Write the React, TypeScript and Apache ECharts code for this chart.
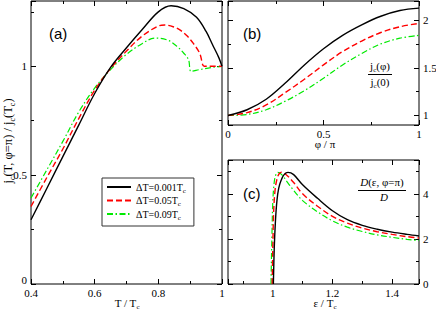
import React, { useEffect, useRef } from 'react';
import * as echarts from 'echarts';

// ---------- Panel (a): j_c(T, phi=pi) / j_c(T_c) vs T / T_c ----------
const aBlackT = [0.40, 0.45, 0.50, 0.55, 0.60, 0.65, 0.70, 0.75, 0.80, 0.84, 0.88, 0.92, 0.95, 0.97, 0.99, 1.00];
const aBlackJ = [0.295, 0.44, 0.585, 0.73, 0.875, 0.995, 1.085, 1.17, 1.25, 1.278, 1.265, 1.225, 1.16, 1.10, 1.04, 1.00];
const aRedT = [0.40, 0.45, 0.50, 0.55, 0.60, 0.65, 0.70, 0.75, 0.80, 0.82, 0.85, 0.87, 0.89, 0.91, 0.93, 0.944, 0.96, 1.00];
const aRedJ = [0.356, 0.49, 0.62, 0.76, 0.89, 0.99, 1.07, 1.14, 1.185, 1.19, 1.18, 1.165, 1.14, 1.105, 1.06, 1.0, 1.0, 1.0];
const aGreenT = [0.40, 0.45, 0.50, 0.55, 0.60, 0.65, 0.70, 0.75, 0.79, 0.83, 0.86, 0.88, 0.895, 0.903, 0.93, 0.97, 1.00];
const aGreenJ = [0.395, 0.525, 0.655, 0.79, 0.90, 0.985, 1.055, 1.105, 1.13, 1.12, 1.09, 1.06, 1.03, 0.977, 0.985, 0.995, 1.00];

// ---------- Panel (b): j_c(phi) / j_c(0) vs phi / pi ----------
const bPhi = [0, 0.1, 0.2, 0.3, 0.4, 0.5, 0.6, 0.7, 0.8, 0.9, 1.0];
const bBlack = [1.0, 1.06, 1.17, 1.34, 1.53, 1.70, 1.84, 1.95, 2.04, 2.10, 2.125];
const bRed = [1.0, 1.03, 1.11, 1.24, 1.38, 1.53, 1.67, 1.78, 1.87, 1.93, 1.965];
const bGreen = [1.0, 1.01, 1.06, 1.15, 1.26, 1.39, 1.53, 1.65, 1.75, 1.81, 1.84];

// ---------- Panel (c): D(eps, phi=pi) / D vs eps / T_c ----------
const cBlackE = [1.002, 1.005, 1.009, 1.014, 1.02, 1.028, 1.038, 1.051, 1.07, 1.1, 1.15, 1.2, 1.25, 1.3, 1.35, 1.4, 1.45, 1.49];
const cBlackD = [0, 1.6, 2.8, 3.7, 4.25, 4.6, 4.85, 4.95, 4.85, 4.4, 3.8, 3.25, 2.85, 2.6, 2.43, 2.3, 2.2, 2.13];
const cRedE = [0.998, 1.0, 1.003, 1.008, 1.015, 1.022, 1.03, 1.045, 1.07, 1.1, 1.15, 1.2, 1.25, 1.3, 1.35, 1.4, 1.45, 1.49];
const cRedD = [0, 1.5, 3.2, 4.2, 4.7, 4.9, 4.96, 4.85, 4.5, 4.0, 3.45, 3.0, 2.7, 2.48, 2.32, 2.2, 2.1, 2.04];
const cGreenE = [0.994, 0.997, 1.0, 1.004, 1.009, 1.017, 1.03, 1.05, 1.07, 1.1, 1.15, 1.2, 1.25, 1.3, 1.35, 1.4, 1.45, 1.49];
const cGreenD = [0, 2.0, 3.6, 4.4, 4.8, 4.95, 4.85, 4.5, 4.15, 3.7, 3.2, 2.8, 2.52, 2.33, 2.18, 2.07, 1.98, 1.93];

// ---------- tick labels ----------
const aXLabels = [0.4, 0.6, 0.8, 1];
const aYLabels = [0, 0.5, 1];
const bXLabels = [0, 0.5, 1];
const bYLabels = [1, 1.5, 2];
const cXLabels = [1, 1.2, 1.4];
const cYLabels = [0, 2, 4];

const seriesNames = ['ΔT=0.001Tc', 'ΔT=0.05Tc', 'ΔT=0.09Tc'];
const legendRich: Record<string, string> = {
  'ΔT=0.001Tc': '{n|ΔT=0.001T}{s|c}',
  'ΔT=0.05Tc': '{n|ΔT=0.05T}{s|c}',
  'ΔT=0.09Tc': '{n|ΔT=0.09T}{s|c}',
};

const SERIF = '"Liberation Serif", "Times New Roman", serif';
const SANS = '"Liberation Sans", Arial, sans-serif';

const richFor = (size: number, lh = size + 3, subH = 6) => ({
  n: { fontSize: size, fontFamily: SERIF, lineHeight: lh, color: '#000' },
  i: { fontSize: size, fontFamily: SERIF, fontStyle: 'italic', lineHeight: lh, color: '#000' },
  s: { fontSize: Math.round(size * 0.65), fontFamily: SERIF, verticalAlign: 'bottom', height: subH, color: '#000' },
});

const zip = (xs: number[], ys: number[]) => xs.map((x, i) => [x, ys[i]]);

// The corner label "0" (shared corner with the x labels) is lifted slightly via a rich style.
const fmt = (labels: number[], liftZero: boolean) => (v: number) => {
  if (!labels.some((l) => Math.abs(l - v) < 1e-6)) return '';
  const s = String(+Number(v).toFixed(2));
  return liftZero && Math.abs(v) < 1e-9 ? `{z|${s}}` : s;
};

function axisSet(
  dim: 'x' | 'y', grid: number, min: number, max: number,
  major: number, minor: number, labelPos: string, labels: number[],
) {
  const main = dim === 'x' ? 'bottom' : 'left';
  const opp = dim === 'x' ? 'top' : 'right';
  const lift = dim === 'y' && labelPos === 'left';
  const mk = (pos: string, iv: number, len: number, withLabels: boolean) => ({
    type: 'value', gridIndex: grid, min, max, position: pos,
    minInterval: iv, maxInterval: iv,
    axisLine: { show: false, onZero: false },
    splitLine: { show: false },
    axisTick: { show: true, inside: true, length: len, lineStyle: { color: '#000', width: 1 } },
    axisLabel: withLabels
      ? {
          show: true, margin: 4, formatter: fmt(labels, lift),
          fontFamily: SERIF, fontSize: 11, color: '#000', lineHeight: dim === 'x' ? 9 : 7,
          rich: { z: { fontFamily: SERIF, fontSize: 11, color: '#000', padding: [0, 0, 8, 0] } },
        }
      : { show: false },
  });
  return [
    mk(main, major, 5, labelPos === main),
    mk(main, minor, 3, false),
    mk(opp, major, 5, labelPos === opp),
    mk(opp, minor, 3, false),
  ];
}

const styles = [
  { color: '#000000', width: 1.4, type: 'solid' as any },
  { color: '#ff0000', width: 1.4, type: [6, 3] as any },
  { color: '#00ea00', width: 1.2, type: [6, 2.5, 1.5, 2.5] as any },
];

function line(name: string, k: number, grid: number, data: number[][]) {
  return {
    type: 'line', name, xAxisIndex: grid * 4, yAxisIndex: grid * 4, data,
    symbol: 'none', smooth: 0.35,
    lineStyle: { ...styles[k] }, itemStyle: { color: styles[k].color },
    z: 3 - k,
  };
}

export default function App() {
  const ref = useRef<HTMLDivElement>(null);
  useEffect(() => {
    if (!ref.current) return;
    const chart = echarts.init(ref.current, undefined, { renderer: 'svg' });
    const r11 = richFor(11);
    const rTitle = richFor(11, 10, 2);
    const option: any = {
      animation: false,
      backgroundColor: '#fff',
      grid: [
        { left: 31, top: 1, width: 191, height: 283 },
        { left: 228, top: 1, width: 191, height: 124 },
        { left: 228, top: 160, width: 191, height: 124 },
      ].map((g) => ({ ...g, show: true, borderColor: '#000', borderWidth: 1, backgroundColor: 'transparent', containLabel: false, outerBoundsMode: 'none' })),
      xAxis: [
        ...axisSet('x', 0, 0.4, 1.0, 0.2, 0.1, 'bottom', aXLabels),
        ...axisSet('x', 1, 0, 1, 0.5, 0.25, 'bottom', bXLabels),
        ...axisSet('x', 2, 0.85, 1.49, 0.2, 0.1, 'bottom', cXLabels),
      ],
      yAxis: [
        ...axisSet('y', 0, 0, 1.3, 0.5, 0.25, 'left', aYLabels),
        ...axisSet('y', 1, 0.9, 2.2, 0.5, 0.25, 'right', bYLabels),
        ...axisSet('y', 2, 0, 5.5, 2, 1, 'right', cYLabels),
      ],
      legend: {
        orient: 'vertical', left: 102, top: 178,
        data: seriesNames,
        padding: [4, 8, 5, 4], itemGap: 1.5, itemWidth: 24, itemHeight: 12,
        borderColor: '#333', borderWidth: 1, borderRadius: 0, backgroundColor: '#fff',
        itemStyle: { opacity: 0 },
        formatter: (name: string) => legendRich[name] ?? name,
        textStyle: { fontFamily: SERIF, fontSize: 10, color: '#000', rich: richFor(10) },
      },
      series: [
        line(seriesNames[0], 0, 0, zip(aBlackT, aBlackJ)),
        line(seriesNames[1], 1, 0, zip(aRedT, aRedJ)),
        line(seriesNames[2], 2, 0, zip(aGreenT, aGreenJ)),
        line(seriesNames[0], 0, 1, zip(bPhi, bBlack)),
        line(seriesNames[1], 1, 1, zip(bPhi, bRed)),
        line(seriesNames[2], 2, 1, zip(bPhi, bGreen)),
        line(seriesNames[0], 0, 2, zip(cBlackE, cBlackD)),
        line(seriesNames[1], 1, 2, zip(cRedE, cRedD)),
        line(seriesNames[2], 2, 2, zip(cGreenE, cGreenD)),
      ],
      graphic: [
        { type: 'text', x: 49, y: 33, style: { text: '(a)', font: `15px ${SANS}`, fill: '#000', align: 'left', verticalAlign: 'middle' } },
        { type: 'text', x: 243, y: 33, style: { text: '(b)', font: `15px ${SANS}`, fill: '#000', align: 'left', verticalAlign: 'middle' } },
        { type: 'text', x: 243, y: 193, style: { text: '(c)', font: `15px ${SANS}`, fill: '#000', align: 'left', verticalAlign: 'middle' } },
        { type: 'text', x: 127, y: 303, style: { text: '{n|T / T}{s|c}', rich: rTitle, align: 'center', verticalAlign: 'middle' } },
        { type: 'text', x: 325, y: 144, style: { text: '{n|φ / π}', rich: rTitle, align: 'center', verticalAlign: 'middle' } },
        { type: 'text', x: 325, y: 303, style: { text: '{n|ε / T}{s|c}', rich: rTitle, align: 'center', verticalAlign: 'middle' } },
        { type: 'text', x: 8, y: 141, rotation: Math.PI / 2, style: { text: '{n|j}{s|c}{n|(T, φ=π) / j}{s|c}{n|(T}{s|c}{n|)}', rich: richFor(12.5), align: 'center', verticalAlign: 'middle' } },
        { type: 'text', x: 380, y: 66, style: { text: '{n|j}{s|c}{n|(φ)}', rich: r11, align: 'center', verticalAlign: 'middle' } },
        { type: 'line', shape: { x1: 368, y1: 74.5, x2: 392, y2: 74.5 }, style: { stroke: '#000', lineWidth: 1 } },
        { type: 'text', x: 380, y: 82, style: { text: '{n|j}{s|c}{n|(0)}', rich: r11, align: 'center', verticalAlign: 'middle' } },
        { type: 'text', x: 382, y: 182, style: { text: '{i|D}{n|(ε, φ=π)}', rich: r11, align: 'center', verticalAlign: 'middle' } },
        { type: 'line', shape: { x1: 358, y1: 190.5, x2: 406, y2: 190.5 }, style: { stroke: '#000', lineWidth: 1 } },
        { type: 'text', x: 384, y: 197, style: { text: '{i|D}', rich: r11, align: 'center', verticalAlign: 'middle' } },
      ],
    };
    chart.setOption(option);
    return () => chart.dispose();
  }, []);
  return (
    <div
      ref={ref}
      style={{ position: 'fixed', left: 0, top: 0, width: 436, height: 310 }}
    />
  );
}
